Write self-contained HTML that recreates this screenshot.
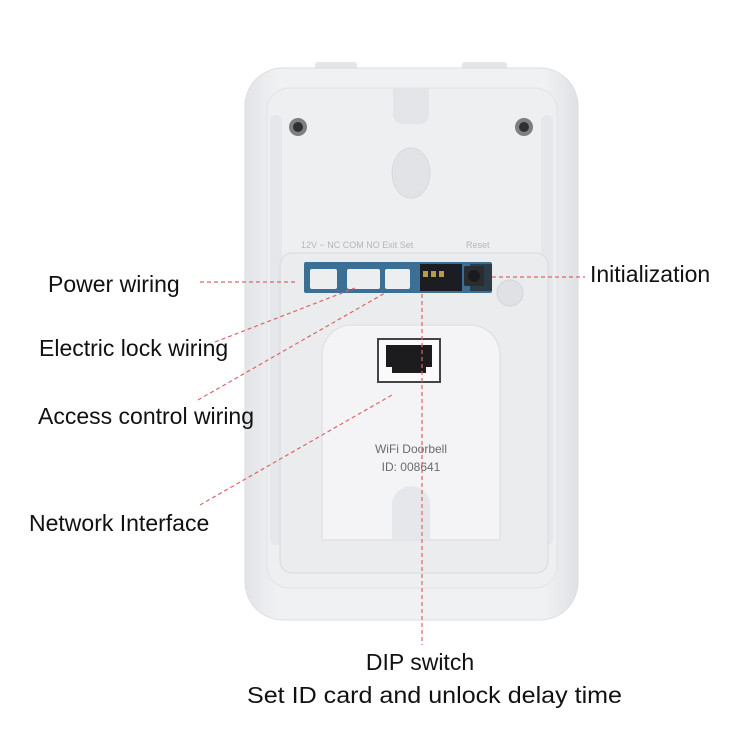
<!DOCTYPE html>
<html><head><meta charset="utf-8"><style>
html,body{margin:0;padding:0;background:#fff;}
svg{display:block}
text{font-family:"Liberation Sans",sans-serif;}
</style></head><body>
<svg width="750" height="750" viewBox="0 0 750 750">
<defs>
<linearGradient id="body" x1="0" y1="0" x2="1" y2="0">
<stop offset="0" stop-color="#e3e4e7"/><stop offset="0.1" stop-color="#f0f1f3"/><stop offset="0.9" stop-color="#f0f1f3"/><stop offset="1" stop-color="#e0e1e4"/>
</linearGradient>
</defs>
<rect x="315" y="62" width="42" height="8" rx="3" fill="#e4e5e8"/>
<rect x="462" y="62" width="45" height="8" rx="3" fill="#e4e5e8"/>
<rect x="245" y="68" width="333" height="552" rx="38" fill="url(#body)" stroke="#dcdde0"/>
<rect x="267" y="88" width="290" height="500" rx="22" fill="#eeeff1" stroke="#e2e3e6"/>
<rect x="270" y="115" width="12" height="430" rx="6" fill="#e6e7ea"/>
<rect x="541" y="115" width="12" height="430" rx="6" fill="#e6e7ea"/>
<path d="M393 88 L393 115 a9 9 0 0 0 9 9 h18 a9 9 0 0 0 9 -9 L429 88 Z" fill="#e4e5e8"/>
<ellipse cx="411" cy="173" rx="19" ry="25" fill="#e2e3e6" stroke="#d8d9dc"/>
<circle cx="298" cy="127" r="9" fill="#7d7f83"/><circle cx="298" cy="127" r="5" fill="#2f3033"/>
<circle cx="524" cy="127" r="9" fill="#7d7f83"/><circle cx="524" cy="127" r="5" fill="#2f3033"/>
<circle cx="300" cy="555" r="8" fill="#7d7f83"/><circle cx="300" cy="555" r="4" fill="#2f3033"/>
<circle cx="522" cy="555" r="8" fill="#7d7f83"/><circle cx="522" cy="555" r="4" fill="#2f3033"/>
<text x="301" y="248" font-size="9" fill="#b5b6b9">12V −  NC COM NO  Exit   Set</text>
<text x="466" y="248" font-size="9" fill="#b5b6b9">Reset</text>
<rect x="280" y="253" width="268" height="320" rx="12" fill="#ebecee" stroke="#d9dadd"/>
<rect x="304" y="262" width="188" height="31" rx="2" fill="#3c6f94"/>
<rect x="420" y="264" width="42" height="27" fill="#1b1d22"/>
<rect x="470" y="264" width="22" height="27" fill="#2b3b48"/>
<rect x="464" y="266" width="20" height="20" rx="2" fill="#2a2c30"/>
<circle cx="474" cy="276" r="6" fill="#1a1b1e"/>
<rect x="310" y="269" width="27" height="20" rx="2" fill="#eceef0"/>
<rect x="347" y="269" width="33" height="20" rx="2" fill="#eceef0"/>
<rect x="385" y="269" width="25" height="20" rx="2" fill="#eceef0"/>
<rect x="423" y="271" width="5" height="6" fill="#b89a4a"/><rect x="431" y="271" width="5" height="6" fill="#b89a4a"/><rect x="439" y="271" width="5" height="6" fill="#b89a4a"/>
<circle cx="510" cy="293" r="13" fill="#e0e1e4" stroke="#d3d4d7"/>
<path d="M322 540 L322 355 a30 30 0 0 1 30 -30 L470 325 a30 30 0 0 1 30 30 L500 540 Z" fill="#f4f4f6" stroke="#dcdde0"/>
<path d="M392 540 L392 505 a19 19 0 0 1 38 0 L430 540 Z" fill="#e6e7ea"/>
<rect x="378" y="339" width="62" height="43" fill="#fafafa" stroke="#444" stroke-width="2"/>
<path d="M386 345 h46 v22 h-6 v6 h-34 v-6 h-6 Z" fill="#1c1c1e"/>
<text x="411" y="453" font-size="12" fill="#6a6b6e" text-anchor="middle">WiFi Doorbell</text>
<text x="411" y="471" font-size="12" fill="#6a6b6e" text-anchor="middle">ID: 008641</text>
<g stroke="#d9666a" stroke-width="1.2" stroke-dasharray="4,3" fill="none">
<line x1="200" y1="282" x2="298" y2="282"/>
<line x1="215" y1="342" x2="355" y2="288"/>
<line x1="198" y1="400" x2="385" y2="293"/>
<line x1="200" y1="505" x2="392" y2="395"/>
<line x1="422" y1="294" x2="422" y2="645"/>
<line x1="492" y1="277" x2="585" y2="277"/>
</g>
<g font-size="23" fill="#111">
<text x="48" y="292">Power wiring</text>
<text x="39" y="356">Electric lock wiring</text>
<text x="38" y="424">Access control wiring</text>
<text x="29" y="531">Network Interface</text>
<text x="590" y="282">Initialization</text>
<text x="420" y="670" text-anchor="middle">DIP switch</text>
<text x="247" y="703" textLength="375" lengthAdjust="spacingAndGlyphs">Set ID card and unlock delay time</text>
</g>
</svg>
</body></html>
